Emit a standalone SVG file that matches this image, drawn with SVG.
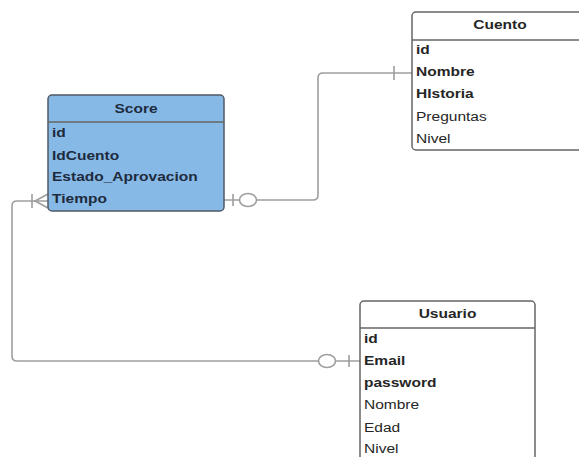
<svg xmlns="http://www.w3.org/2000/svg" width="579" height="457" viewBox="0 0 579 457">
<style>
.box{fill:#ffffff;stroke:#666666;stroke-width:1.5}
.blue{fill:#86b9e6;stroke:#505a66;stroke-width:1.5}
.sep{stroke:#666666;stroke-width:1.3}
.t{font-family:"Liberation Sans",Arial,sans-serif;font-size:13.5px;fill:#262626}
.b{font-weight:bold}
.h{text-anchor:middle;font-weight:bold}
.st{fill:#1e2b3d}
.ln{fill:none;stroke:#9e9e9e;stroke-width:1.6}
.ell{fill:#ffffff;stroke:#9e9e9e;stroke-width:1.6}
</style>
<rect width="579" height="457" fill="#ffffff"/>
<g id="connectors">
<path class="ln" d="M224,200 H313 Q318,200 318,195 V78 Q318,73 323,73 H412"/>
<line class="ln" x1="394" y1="66" x2="394" y2="80"/>
<line class="ln" x1="233" y1="194" x2="233" y2="206"/>
<ellipse class="ell" cx="248" cy="200" rx="8.5" ry="6.5"/>
<path class="ln" d="M360,361 H17 Q12,361 12,356 V206 Q12,201 17,201 H48"/>
<path class="ln" d="M48,194 L35,201 L48,208"/>
<line class="ln" x1="32" y1="194" x2="32" y2="208"/>
<ellipse class="ell" cx="327" cy="361" rx="8.5" ry="6.5"/>
<line class="ln" x1="349" y1="355" x2="349" y2="367"/>
</g>
<g id="score">
<rect class="blue" x="48" y="95" width="176" height="116" rx="4"/>
<line class="sep" x1="48" y1="122" x2="224" y2="122" stroke="#505a66"/>
<text class="t h st" transform="translate(136,113) scale(1.15 1)">Score</text>
<text class="t b st" transform="translate(52,137) scale(1.15 1)">id</text>
<text class="t b st" transform="translate(52,160) scale(1.15 1)">IdCuento</text>
<text class="t b st" transform="translate(52,181) scale(1.15 1)">Estado_Aprovacion</text>
<text class="t b st" transform="translate(52,203) scale(1.15 1)">Tiempo</text>
</g>
<g id="cuento">
<rect class="box" x="412" y="12" width="176" height="138" rx="4"/>
<line class="sep" x1="412" y1="40" x2="588" y2="40"/>
<text class="t h" transform="translate(500,29) scale(1.15 1)">Cuento</text>
<text class="t b" transform="translate(416,54) scale(1.15 1)">id</text>
<text class="t b" transform="translate(416,76) scale(1.15 1)">Nombre</text>
<text class="t b" transform="translate(416,98) scale(1.15 1)">HIstoria</text>
<text class="t" transform="translate(416,121) scale(1.15 1)">Preguntas</text>
<text class="t" transform="translate(416,143) scale(1.15 1)">Nivel</text>
</g>
<g id="usuario">
<rect class="box" x="360" y="301" width="175" height="175" rx="4"/>
<line class="sep" x1="360" y1="328" x2="535" y2="328"/>
<text class="t h" transform="translate(447.5,317.5) scale(1.15 1)">Usuario</text>
<text class="t b" transform="translate(364,343) scale(1.15 1)">id</text>
<text class="t b" transform="translate(364,365) scale(1.15 1)">Email</text>
<text class="t b" transform="translate(364,387) scale(1.15 1)">password</text>
<text class="t" transform="translate(364,409) scale(1.15 1)">Nombre</text>
<text class="t" transform="translate(364,432) scale(1.15 1)">Edad</text>
<text class="t" transform="translate(364,453) scale(1.15 1)">Nivel</text>
</g>
</svg>
